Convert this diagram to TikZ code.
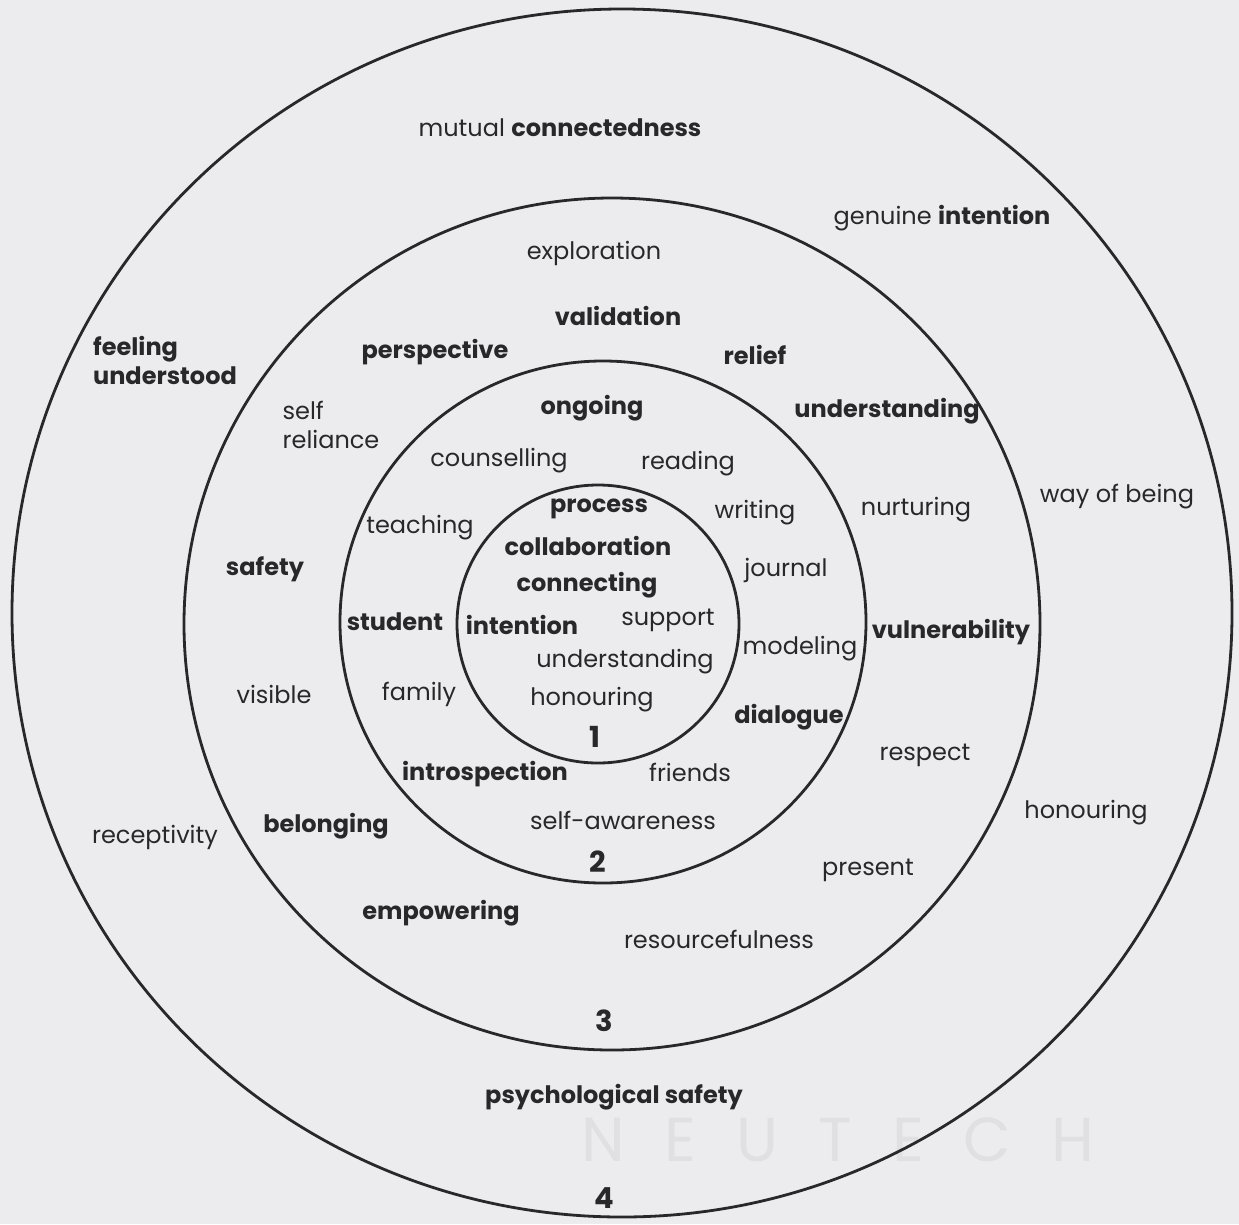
\documentclass[tikz,border=0pt]{standalone}
\usepackage{fontspec}
\setmainfont{Poppins}
\definecolor{paper}{RGB}{236,236,238}
\definecolor{ink}{RGB}{40,40,42}
\definecolor{wmark}{RGB}{224,224,226}
\begin{document}
\begin{tikzpicture}[x=1pt,y=-1pt,
    wrd/.style={text=ink,font=\fontsize{24}{29}\selectfont,inner sep=0pt},
    bwrd/.style={text=ink,font=\fontsize{24}{29}\selectfont\bfseries,inner sep=0pt},
    lvl/.style={text=ink,font=\fontsize{29}{32}\selectfont\bfseries,inner sep=0pt},
    ring/.style={draw=ink,line width=2.8pt}]
    \fill[paper] (0,0) rectangle (1239,1224);
    \useasboundingbox (0,0) rectangle (1239,1224);
    % faint mark from the scan
    \node[text=wmark,font=\fontsize{62}{62}\selectfont] (wm) at (838,1140) {N\hspace{40pt}E\hspace{40pt}U\hspace{40pt}T\hspace{40pt}E\hspace{40pt}C\hspace{40pt}H};
    % the four rings
    \draw[ring] (622,613) ellipse (610 and 604);
    \draw[ring] (612,624) ellipse (428 and 426);
    \draw[ring] (603,622) ellipse (263 and 261);
    \draw[ring] (598,624) ellipse (141 and 139);
    % ring 4
    \node[wrd] (mc) at (560,128) {mutual \textbf{connectedness}};
    \node[wrd] (gi) at (942,218) {genuine \textbf{intention}};
    \node[bwrd,align=left] (fu) at (165,360) {feeling\\understood};
    \node[wrd] (wb) at (1117,497) {way of being};
    \node[wrd] (rc) at (155,837) {receptivity};
    \node[wrd] (ho) at (1086,813) {honouring};
    \node[bwrd] (ps) at (614,1097) {psychological safety};
    \node[lvl] (n4) at (604,1198) {4};
    % ring 3
    \node[wrd] (ex) at (594,253) {exploration};
    \node[bwrd] (va) at (618,316) {validation};
    \node[bwrd] (pe) at (435,352) {perspective};
    \node[bwrd] (re) at (755,355) {relief};
    \node[wrd,align=left] (sr) at (331,425) {self\\reliance};
    \node[bwrd] (un) at (887,411) {understanding};
    \node[wrd] (nu) at (916,510) {nurturing};
    \node[bwrd] (sa) at (265,569) {safety};
    \node[bwrd] (vu) at (951,632) {vulnerability};
    \node[wrd] (vi) at (274,694) {visible};
    \node[wrd] (rs) at (925,755) {respect};
    \node[bwrd] (be) at (326,826) {belonging};
    \node[wrd] (pr) at (868,870) {present};
    \node[bwrd] (em) at (441,913) {empowering};
    \node[wrd] (rf) at (719,939) {resourcefulness};
    \node[lvl] (n3) at (604,1021) {3};
    % ring 2
    \node[bwrd] (on) at (592,408) {ongoing};
    \node[wrd] (co) at (499,461) {counselling};
    \node[wrd] (rd) at (688,464) {reading};
    \node[wrd] (wr) at (755,513) {writing};
    \node[wrd] (te) at (420,528) {teaching};
    \node[wrd] (jo) at (786,570) {journal};
    \node[bwrd] (st) at (395,622) {student};
    \node[wrd] (mo) at (800,649) {modeling};
    \node[wrd] (fa) at (419,694) {family};
    \node[bwrd] (di) at (789,717) {dialogue};
    \node[bwrd] (in) at (485,774) {introspection};
    \node[wrd] (fr) at (690,772) {friends};
    \node[wrd] (sw) at (623,820) {self-awareness};
    \node[lvl] (n2) at (598,862) {2};
    % ring 1
    \node[bwrd] (pc) at (599,509) {process};
    \node[bwrd] (cl) at (588,546) {collaboration};
    \node[bwrd] (cn) at (587,585) {connecting};
    \node[bwrd] (it) at (522,625) {intention};
    \node[wrd] (su) at (668,620) {support};
    \node[wrd] (ud) at (625,662) {understanding};
    \node[wrd] (hn) at (592,700) {honouring};
    \node[lvl] (n1) at (595,737) {1};
\end{tikzpicture}
\end{document}
